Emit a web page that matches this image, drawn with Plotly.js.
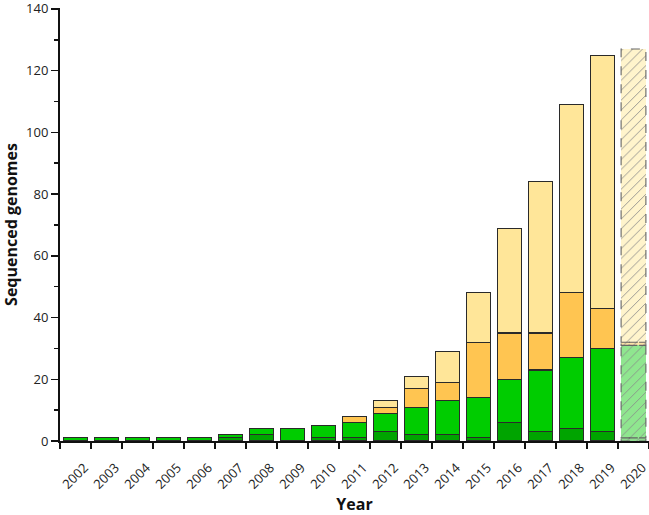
<!DOCTYPE html>
<html>
<head>
<meta charset="utf-8">
<script src="https://cdn.plot.ly/plotly-3.0.1.min.js"></script>
<style>
  html, body { margin: 0; padding: 0; background: #fff; }
  #graph { width: 649px; height: 515px; }
</style>
</head>
<body>
<div id="graph"></div>
<script>
const years = ['2002', '2003', '2004', '2005', '2006', '2007', '2008', '2009', '2010', '2011',
               '2012', '2013', '2014', '2015', '2016', '2017', '2018', '2019', '2020'];
const darkGreen = [0, 0, 0, 0, 0, 1, 2, 0, 1, 1, 3, 2, 2, 1, 6, 3, 4, 3, 1];
const green     = [1, 1, 1, 1, 1, 1, 2, 4, 4, 5, 6, 9, 11, 13, 14, 20, 23, 27, 30];
const orange    = [0, 0, 0, 0, 0, 0, 0, 0, 0, 2, 2, 6, 6, 18, 15, 12, 21, 13, 1];
const light     = [0, 0, 0, 0, 0, 0, 0, 0, 0, 0, 2, 4, 10, 16, 34, 49, 61, 82, 95];

// the last year is a projection: hatched, dashed outline
const projectedYear = '2020';

const series = [
    { values: darkGreen, color: '#00a400', faint: '#8fdc8f' },
    { values: green,     color: '#00cc00', faint: '#8fe68f' },
    { values: orange,    color: '#ffc551', faint: '#fde3a8' },
    { values: light,     color: '#ffe699', faint: '#fff4cc' },
];

const barWidth = 0.8;

const solidTraces = series.map(s => ({
    type: 'bar',
    x: years,
    y: s.values.map((v, i) => (v === 0 || years[i] === projectedYear ? null : v)),
    width: barWidth,
    marker: {
        color: s.color,
        line: { color: '#2a2a2a', width: 1.05 },
    },
    hoverinfo: 'x+y',
    showlegend: false,
}));

const pIdx = years.indexOf(projectedYear);
const projectedTraces = series.map(s => ({
    type: 'bar',
    x: [projectedYear],
    y: [s.values[pIdx] === 0 ? null : s.values[pIdx]],
    width: barWidth,
    marker: {
        color: s.faint,
        line: { width: 0 },
        pattern: {
            shape: '/',
            bgcolor: s.faint,
            fgcolor: '#8a8a8a',
            fillmode: 'replace',
            size: 7,
            solidity: 0.12,
        },
    },
    hoverinfo: 'x+y',
    showlegend: false,
}));

// dashed outlines for the projected segments
const shapes = [];
let base = 0;
series.forEach(s => {
    const v = s.values[pIdx];
    if (v > 0) {
        shapes.push({
            type: 'rect', xref: 'x', yref: 'y',
            x0: pIdx - barWidth / 2, x1: pIdx + barWidth / 2,
            y0: base, y1: base + v,
            line: { color: '#666666', width: 1.1, dash: 'dash' },
        });
    }
    base += v;
});

const layout = {
    width: 649,
    height: 515,
    margin: { l: 60, r: 0, t: 8, b: 74 },
    paper_bgcolor: '#ffffff',
    plot_bgcolor: '#ffffff',
    barmode: 'stack',
    font: { family: 'Open Sans, sans-serif', size: 13, color: '#222' },
    xaxis: {
        type: 'category',
        categoryorder: 'array',
        categoryarray: years,
        range: [-0.5, years.length - 0.5],
        showline: true, linecolor: '#111', linewidth: 2,
        ticks: 'outside', ticklen: 6, tickwidth: 1.5, tickcolor: '#111',
        tickson: 'boundaries',
        tickangle: -45,
        ticklabelstandoff: 12,
        ticklabelshift: 9,
        tickfont: { size: 13, color: '#222' },
        showgrid: false, zeroline: false,
        title: { text: '<b>Year</b>', font: { size: 16, color: '#111' }, standoff: 18 },
    },
    yaxis: {
        range: [0, 140.3],
        tickvals: [0, 20, 40, 60, 80, 100, 120, 140],
        ticklabeloverflow: 'allow',
        showline: true, linecolor: '#111', linewidth: 2,
        ticks: 'outside', ticklen: 7, tickwidth: 1.5, tickcolor: '#111',
        minor: { tickvals: [10, 30, 50, 70, 90, 110, 130], ticks: 'outside', ticklen: 4, tickwidth: 1.5, tickcolor: '#111', showgrid: false },
        tickfont: { size: 13, color: '#222' },
        showgrid: false, zeroline: false,
        title: { text: '<b>Sequenced genomes</b>', font: { size: 16, color: '#111' }, standoff: 16 },
    },
    shapes: shapes,
};

const config = { displayModeBar: false, staticPlot: true };

Plotly.newPlot('graph', solidTraces.concat(projectedTraces), layout, config);
</script>
</body>
</html>
